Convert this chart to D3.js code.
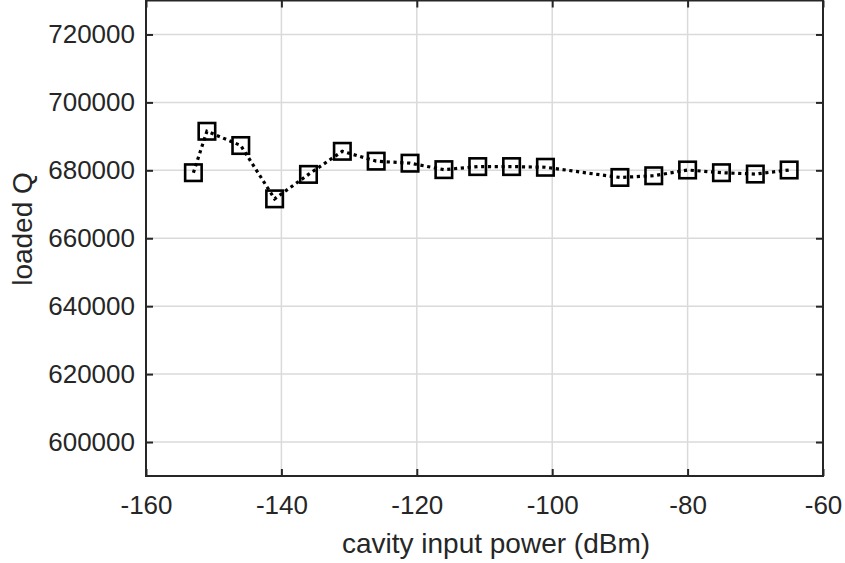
<!DOCTYPE html>
<html>
<head>
<meta charset="utf-8">
<script src="https://cdn.jsdelivr.net/npm/d3@7"></script>
<style>
  html, body { margin: 0; padding: 0; background: #fff; }
  svg { display: block; font-family: "Liberation Sans", Arial, Helvetica, sans-serif; }
</style>
</head>
<body>
<svg id="chart" width="845" height="563"></svg>
<script>
// Cavity input power (dBm) and the loaded quality factor measured at each step
const powerDbm = [-153, -151, -146, -141, -136, -131, -126, -121, -116, -111, -106, -101, -90, -85, -80, -75, -70, -65];
const loadedQ  = [679300, 691500, 687300, 671600, 678800, 685600, 682700, 682100, 680200, 681100, 681100, 680900, 677900, 678400, 680100, 679300, 678900, 680100];

const xTicks = [-160, -140, -120, -100, -80, -60];
const yTicks = [600000, 620000, 640000, 660000, 680000, 700000, 720000];
const xDomain = [-160, -60];
const yDomain = [590000, 730000];

const W = 845, H = 563;
const margin = { top: 0.5, right: 22, bottom: 87, left: 146 };
const iw = W - margin.left - margin.right;
const ih = H - margin.top - margin.bottom;

const svg = d3.select("#chart");
const g = svg.append("g").attr("transform", `translate(${margin.left},${margin.top})`);

const x = d3.scaleLinear().domain(xDomain).range([0, iw]);
const y = d3.scaleLinear().domain(yDomain).range([ih, 0]);

const axisColor = "#262626";
const gridColor = "#dadada";

// grid lines
g.append("g").selectAll("line").data(xTicks.slice(1, -1)).join("line")
  .attr("x1", d => x(d)).attr("x2", d => x(d))
  .attr("y1", 0).attr("y2", ih)
  .attr("stroke", gridColor).attr("stroke-width", 1.5);
g.append("g").selectAll("line").data(yTicks).join("line")
  .attr("x1", 0).attr("x2", iw)
  .attr("y1", d => y(d)).attr("y2", d => y(d))
  .attr("stroke", gridColor).attr("stroke-width", 1.5);

// axes with inward ticks, boxed on all four sides
const fontSize = 26;
const styleAxis = sel => {
  sel.select(".domain").remove();
  sel.selectAll(".tick line").attr("stroke", axisColor).attr("stroke-width", 2);
  sel.selectAll(".tick text").attr("fill", "#262626").style("font-size", fontSize + "px")
     .style("font-family", '"Liberation Sans", Arial, sans-serif');
};

g.append("g").attr("transform", `translate(0,${ih})`)
  .call(d3.axisBottom(x).tickValues(xTicks).tickFormat(d => String(d)).tickSize(-7).tickPadding(20))
  .call(styleAxis);
g.append("g")
  .call(d3.axisTop(x).tickValues(xTicks).tickFormat("").tickSize(-7))
  .call(styleAxis);
g.append("g")
  .call(d3.axisLeft(y).tickValues(yTicks).tickFormat(d3.format("d")).tickSize(-7).tickPadding(11))
  .call(styleAxis);
g.append("g").attr("transform", `translate(${iw},0)`)
  .call(d3.axisRight(y).tickValues(yTicks).tickFormat("").tickSize(-7))
  .call(styleAxis);

g.append("rect")
  .attr("x", 0).attr("y", 0).attr("width", iw).attr("height", ih)
  .attr("fill", "none").attr("stroke", axisColor).attr("stroke-width", 2);

// data series: dotted line with open square markers
const pts = powerDbm.map((p, i) => [p, loadedQ[i]]);
const line = d3.line().x(d => x(d[0])).y(d => y(d[1]));
g.append("path").datum(pts)
  .attr("d", line)
  .attr("fill", "none").attr("stroke", "#000")
  .attr("stroke-width", 3.2).attr("stroke-dasharray", "3.2,3.6");

const ms = 16.5;
g.append("g").selectAll("rect").data(pts).join("rect")
  .attr("x", d => x(d[0]) - ms / 2).attr("y", d => y(d[1]) - ms / 2)
  .attr("width", ms).attr("height", ms)
  .attr("fill", "none").attr("stroke", "#000").attr("stroke-width", 2.6);

// axis labels
svg.append("text")
  .attr("x", 496).attr("y", 553)
  .attr("text-anchor", "middle")
  .attr("fill", "#262626")
  .style("font-size", "28px")
  .text("cavity input power (dBm)");
svg.append("text")
  .attr("transform", "translate(32,229) rotate(-90)")
  .attr("text-anchor", "middle")
  .attr("fill", "#262626")
  .style("font-size", "28px")
  .text("loaded Q");
</script>
</body>
</html>
